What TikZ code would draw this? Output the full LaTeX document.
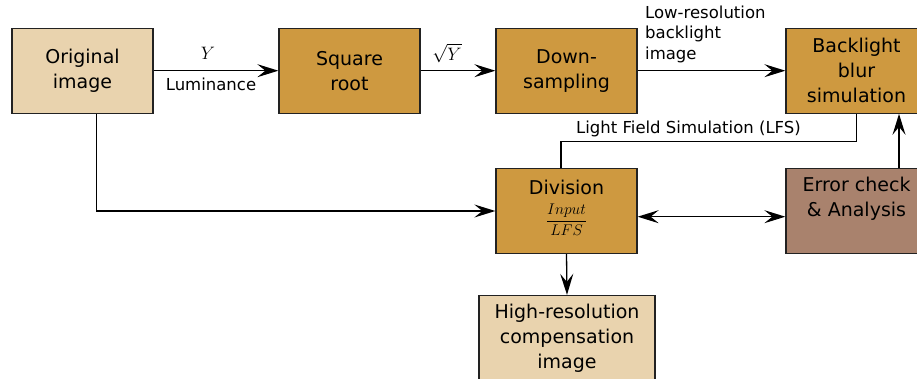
\RequirePackage{fix-cm}
\documentclass[tikz,border=0pt]{standalone}
\usepackage{fontspec}
\setmainfont{DejaVu Sans}
\usetikzlibrary{arrows.meta}
\definecolor{lightc}{RGB}{233,211,174}
\definecolor{midc}{RGB}{206,153,64}
\definecolor{errc}{RGB}{169,130,109}
\definecolor{edgec}{RGB}{34,34,34}
\newcommand\bxfont{\fontsize{19}{25}\selectfont}
\newcommand\lblfont{\fontsize{16.5}{20.5}\selectfont}
\tikzset{
  box/.style={draw=edgec, line width=1.3pt, minimum width=141pt, minimum height=85pt,
    inner sep=0pt, align=center, font=\bxfont},
  txt/.style={inner sep=0pt, align=center, font=\bxfont},
  lbl/.style={inner sep=0pt, font=\lblfont},
  mathlbl/.style={inner sep=0pt, font=\fontsize{18}{20}\selectfont},
  conn/.style={draw=black, line width=1.3pt},
  arr/.style={conn, -{Stealth[length=21pt,width=13pt,inset=8pt]}},
  darr/.style={conn, {Stealth[length=21pt,width=13pt,inset=8pt]}-{Stealth[length=21pt,width=13pt,inset=8pt]}}
}
\begin{document}
\begin{tikzpicture}[x=1pt,y=-1pt]
\useasboundingbox (0,0) rectangle (917,379);
% boxes
\node[box, fill=lightc] (orig) at (82.5,70.7) {Original\\image};
\node[box, fill=midc] (sqrt) at (349.5,70.7) {Square\\root};
\node[box, fill=midc] (down) at (566.5,70.7) {Down-\\sampling};
\node[box, fill=midc] (back) at (856.5,70.7) {Backlight\\blur\\simulation};
\node[box, fill=midc] (div) at (566.5,211) {};
\node[txt] (divt) at (566.5,187) {Division};
\node[inner sep=0pt, font=\fontsize{15.5}{18}\selectfont] (divf) at (566.5,220) {$\displaystyle\frac{Input}{LFS}$};
\node[box, fill=errc] (err) at (856.5,211) {};
\node[txt] (errt) at (856.5,199) {Error check\\\& Analysis};
\node[box, fill=lightc, minimum width=176pt] (high) at (567,338) {High-resolution\\compensation\\image};
% connectors
\draw[arr] (orig.east) -- (sqrt.west);
\node[mathlbl] (ylbl) at (208,53) {$Y$};
\node[lbl] (lum) at (211,84) {Luminance};
\draw[arr] (sqrt.east) -- (down.west);
\node[mathlbl] (sqlbl) at (447,53) {$\sqrt{Y}$};
\draw[arr] (down.east) -- (back.west);
\node[lbl, align=left, anchor=west] (lowres) at (645,34) {Low-resolution\\backlight\\image};
\draw[conn] (back.south) -- ++(0,28) -| ([xshift=-5.5pt]div.north);
\node[lbl] (lfs) at (688.5,129) {Light Field Simulation (LFS)};
\draw[arr] ([xshift=42.5pt]err.north) -- ([xshift=42.5pt]back.south);
\draw[arr] ([xshift=14.2pt]orig.south) |- (div.west);
\draw[darr] ([yshift=-5.7pt]div.east) -- ([yshift=-5.7pt]err.west);
\draw[arr] (div.south) -- (high.north);
\end{tikzpicture}
\end{document}
